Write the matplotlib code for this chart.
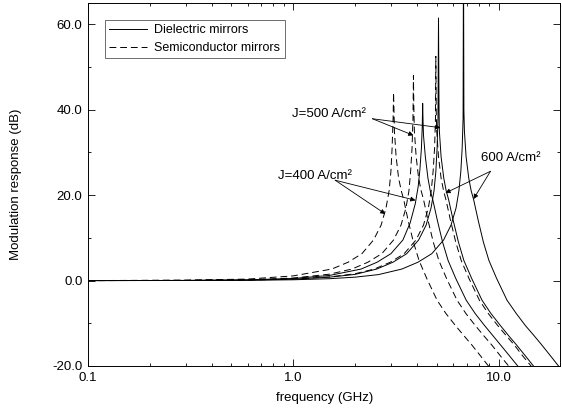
import numpy as np
from matplotlib import pyplot as plt
from matplotlib.ticker import FixedLocator, NullFormatter, LogLocator

plt.rcParams['font.family'] = ['Liberation Sans', 'DejaVu Sans']

'''
DATA (read off the picture)
'''
# semiconductor mirrors, J = 400 A/cm2 (dashed)
f_s400 = [0.1, 0.3, 0.6, 1.0, 1.54, 1.85, 2.16, 2.46, 2.68, 2.83, 2.93, 2.99, 3.03, 3.065, 3.08,
          3.095, 3.11, 3.17, 3.26, 3.36, 3.45, 3.63, 3.85, 4.10, 4.47, 5.02, 5.54, 6.16, 6.78, 7.39,
          8.16, 8.93, 9.70, 10.5]
db_s400 = [0.0, 0.1, 0.35, 1.1, 2.7, 4.3, 6.3, 9.5, 13.0, 17.0, 21.0, 25.5, 31.0, 38.0, 44.0,
           40.0, 35.0, 29.0, 24.0, 21.0, 19.0, 14.0, 9.0, 4.7, 0.5, -4.6, -7.7, -10.5, -12.9, -15.0,
           -17.6, -20.0, -21.8, -23.5]

# semiconductor mirrors, J = 500 A/cm2 (dashed)
f_s500 = [0.1, 0.3, 0.6, 1.0, 1.5, 1.93, 2.31, 2.70, 3.08, 3.35, 3.54, 3.66, 3.73, 3.79, 3.83, 3.85,
          3.87, 3.89, 3.97, 4.08, 4.20, 4.31, 4.54, 4.81, 5.12, 5.58, 6.28, 6.93, 7.70, 8.47, 9.24,
          10.2, 11.2, 12.1, 13.1]
db_s500 = [0.0, 0.05, 0.2, 0.6, 1.5, 2.7, 4.3, 6.3, 9.5, 13.0, 17.0, 21.0, 25.5, 31.0, 38.0, 48.0,
           40.0, 35.0, 29.0, 24.0, 21.0, 19.0, 14.0, 9.0, 4.7, 0.5, -4.6, -7.7, -10.5, -12.9, -15.0,
           -17.6, -20.0, -21.8, -23.5]

# semiconductor mirrors, J = 600 A/cm2 (dashed)
f_s600 = [0.1, 0.3, 0.6, 1.0, 1.5, 2.0, 2.48, 2.97, 3.47, 3.96, 4.31, 4.55, 4.70, 4.80, 4.88, 4.93, 4.95,
          4.97, 5.00, 5.10, 5.25, 5.40, 5.54, 5.84, 6.19, 6.58, 7.18, 8.07, 8.91, 9.90, 10.9, 11.9,
          13.1, 14.4, 15.6, 16.8]
db_s600 = [0.0, 0.03, 0.13, 0.37, 0.85, 1.6, 2.7, 4.3, 6.3, 9.5, 13.0, 17.0, 21.0, 25.5, 31.0, 38.0, 52.5,
           40.0, 35.0, 29.0, 24.0, 21.0, 19.0, 14.0, 9.0, 4.7, 0.5, -4.6, -7.7, -10.5, -12.9, -15.0,
           -17.6, -20.0, -21.8, -23.5]

# dielectric mirrors, J = 400 A/cm2 (solid)
f_d400 = [0.1, 0.3, 0.6, 1.0, 1.5, 2.14, 2.56, 2.99, 3.42, 3.71, 3.93, 4.06, 4.14, 4.21, 4.25, 4.27,
          4.29, 4.31, 4.40, 4.53, 4.65, 4.78, 5.04, 5.34, 5.68, 6.19, 6.96, 7.69, 8.54, 9.39, 10.2,
          11.3, 12.4, 13.5, 14.5]
db_d400 = [0.0, 0.04, 0.17, 0.5, 1.2, 2.7, 4.3, 6.3, 9.5, 13.5, 18.0, 22.0, 26.0, 31.0, 36.0, 41.5,
           37.0, 34.0, 29.0, 24.0, 21.0, 19.0, 14.0, 9.0, 4.7, 0.5, -4.6, -7.7, -10.5, -12.9, -15.0,
           -17.6, -20.0, -21.8, -23.5]

# dielectric mirrors, J = 500 A/cm2 (solid)
f_d500 = [0.1, 0.3, 0.6, 1.0, 1.5, 2.0, 2.55, 3.06, 3.57, 4.08, 4.44, 4.69, 4.85, 4.95, 5.02, 5.07, 5.10,
          5.13, 5.15, 5.25, 5.41, 5.56, 5.71, 6.02, 6.38, 6.78, 7.40, 8.31, 9.18, 10.2, 11.2, 12.2,
          13.5, 14.8, 16.1, 17.3]
db_d500 = [0.0, 0.03, 0.12, 0.34, 0.8, 1.45, 2.7, 4.3, 6.3, 9.5, 13.0, 17.0, 21.0, 25.5, 31.0, 38.0, 61.5,
           40.0, 35.0, 29.0, 24.0, 21.0, 19.0, 14.0, 9.0, 4.7, 0.5, -4.6, -7.7, -10.5, -12.9, -15.0,
           -17.6, -20.0, -21.8, -23.5]

# dielectric mirrors, J = 600 A/cm2 (solid), peak runs off the top
f_d600 = [0.1, 0.3, 0.6, 1.0, 1.5, 2.0, 2.6, 3.38, 4.05, 4.73, 5.40, 5.87, 6.21, 6.41, 6.55, 6.65, 6.72, 6.75,
          6.78, 6.82, 6.95, 7.16, 7.36, 7.56, 7.97, 8.44, 8.98, 9.79, 11.0, 12.2, 13.5, 14.9, 16.2,
          17.9, 19.6, 21.3, 23.0]
db_d600 = [0.0, 0.02, 0.07, 0.19, 0.44, 0.8, 1.4, 2.7, 4.3, 6.3, 9.5, 13.0, 17.0, 21.0, 25.5, 31.0, 38.0, 80.0,
           40.0, 35.0, 29.0, 24.0, 21.0, 19.0, 14.0, 9.0, 4.7, 0.5, -4.6, -7.7, -10.5, -12.9, -15.0,
           -17.6, -20.0, -21.8, -23.5]

x_ticks = [0.1, 1.0, 10.0]
x_ticklabels = ['0.1', '1.0', '10.0']
y_ticks = [-20, 0, 20, 40, 60]
y_ticklabels = ['-20.0', '0.0', '20.0', '40.0', '60.0']

'''
PLOT
'''
fig = plt.figure(figsize=(5.62, 4.11), dpi=100)
ax = fig.add_axes([0.1566, 0.1095, 0.8404, 0.8832])

dash = (0, (7, 4))
lw = 0.7
ax.plot(f_d400, db_d400, color='k', lw=lw, label='Dielectric mirrors')
ax.plot(f_d500, db_d500, color='k', lw=lw)
ax.plot(f_d600, db_d600, color='k', lw=lw)
ax.plot(f_s400, db_s400, color='k', lw=lw, ls=dash, label='Semiconductor mirrors')
ax.plot(f_s500, db_s500, color='k', lw=lw, ls=dash)
ax.plot(f_s600, db_s600, color='k', lw=lw, ls=dash)

ax.set_xscale('log')
ax.set_xlim(0.1, 20)
ax.set_ylim(-20, 65)

ax.set_xticks(x_ticks)
ax.set_xticklabels(x_ticklabels)
ax.xaxis.set_minor_locator(LogLocator(base=10, subs=np.arange(2, 10)))
ax.xaxis.set_minor_formatter(NullFormatter())
ax.set_yticks(y_ticks)
ax.set_yticklabels(y_ticklabels)
ax.yaxis.set_minor_locator(FixedLocator([-10, 10, 30, 50]))

ax.tick_params(which='both', direction='in', top=True, right=True, labelsize=9.5, width=0.6)
ax.tick_params(which='major', length=5, pad=4)
ax.tick_params(which='minor', length=2.5)
for s in ax.spines.values():
    s.set_linewidth(0.7)

ax.set_xlabel('frequency (GHz)', fontsize=9.5, labelpad=6)
ax.set_ylabel('Modulation response (dB)', fontsize=9.5, labelpad=22)

leg = ax.legend(loc='upper left', bbox_to_anchor=(0.036, 0.953), borderaxespad=0,
                fontsize=9, handlelength=3.0, labelspacing=0.45, borderpad=0.35,
                fancybox=False, frameon=True, handletextpad=0.6)
leg.get_frame().set_edgecolor('k')
leg.get_frame().set_linewidth(0.5)

# labels with arrows
arr = dict(arrowstyle='-|>', color='k', lw=0.6, mutation_scale=7, shrinkA=0, shrinkB=0)

ax.text(0.99, 39.0, 'J=500 A/cm²', fontsize=9.5, va='center', ha='left')
ax.annotate('', xy=(5.21, 35.8), xytext=(2.43, 37.9), arrowprops=arr)
ax.annotate('', xy=(3.85, 34.0), xytext=(2.43, 37.9), arrowprops=arr)

ax.text(0.845, 24.4, 'J=400 A/cm²', fontsize=9.5, va='center', ha='left')
ax.annotate('', xy=(3.94, 18.8), xytext=(1.60, 23.5), arrowprops=arr)
ax.annotate('', xy=(2.81, 15.6), xytext=(1.60, 23.5), arrowprops=arr)

ax.text(8.17, 28.6, '600 A/cm²', fontsize=9.5, va='center', ha='left')
ax.annotate('', xy=(5.51, 20.5), xytext=(9.14, 25.6), arrowprops=arr)
ax.annotate('', xy=(7.55, 19.1), xytext=(9.14, 25.6), arrowprops=arr)

fig.savefig('out.png', dpi=100)
